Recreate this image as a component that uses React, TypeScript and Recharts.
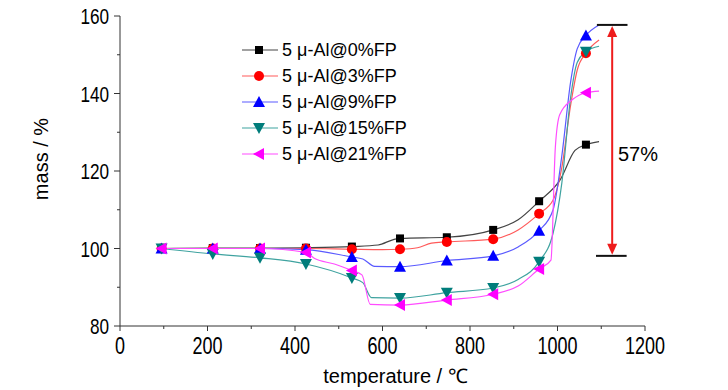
import React from 'react';
import { LineChart, Line, XAxis, YAxis, Legend, ReferenceLine, ReferenceDot } from 'recharts';

// marker temperatures (°C)
const MARKER_T = [95, 212, 320, 425, 530, 640, 747, 853, 958, 1065];
const X_TICKS = [0, 100, 200, 300, 400, 500, 600, 700, 800, 900, 1000, 1100, 1200];
const Y_TICKS = [80, 90, 100, 110, 120, 130, 140, 150, 160];

const NAMES = ['5 \u03bc-Al@0%FP', '5 \u03bc-Al@3%FP', '5 \u03bc-Al@9%FP', '5 \u03bc-Al@15%FP', '5 \u03bc-Al@21%FP'];

// mass at marker temperatures
const M0 = [100, 100.1, 100.1, 100.2, 100.5, 102.6, 102.9, 104.8, 112.2, 126.8];
const M3 = [100, 100, 100, 100, 99.8, 99.8, 101.7, 102.4, 109.0, 150.4];
const M9 = [100, 100, 100, 99.7, 97.8, 95.3, 96.9, 98.1, 104.6, 155.0];
const M15 = [100, 98.6, 97.6, 96.0, 92.4, 87.2, 88.6, 89.8, 96.6, 150.8];
const M21 = [100, 100, 100, 99.0, 94.3, 85.4, 86.7, 88.2, 94.7, 140.2];

// additional curve points between markers [temperature, mass]
const E0: [number, number][] = [[590, 100.9], [625, 102.3], [910, 107.4], [1006, 117.7], [1040, 125.3], [1095, 127.6]];
const E3: [number, number][] = [[600, 99.7], [680, 100.2], [712, 101.4], [910, 104.8], [990, 112.5], [1010, 121], [1030, 137], [1045, 146], [1095, 153.8]];
const E9: [number, number][] = [[555, 97.3], [582, 95.4], [910, 100.4], [990, 110], [1010, 124], [1030, 143], [1045, 151.5], [1095, 157.7]];
const E15: [number, number][] = [[555, 91.2], [575, 87.3], [910, 92], [990, 104], [1010, 117], [1030, 139], [1045, 148], [1095, 152.2]];
const E21: [number, number][] = [[445, 97.4], [490, 96.0], [553, 93.2], [572, 85.6], [910, 90.3], [985, 97], [995, 126], [1005, 134.5], [1035, 138.5], [1095, 140.6]];

const LINE_COLORS = ['#444444', '#ff5a5a', '#5a5aff', '#3fa3a0', '#ff4dff'];
const MARK_COLORS = ['#000000', '#ff0000', '#0000ff', '#007d7b', '#ff00ff'];

type Pt = { t: number; v: number; m: boolean };
const build = (marks: number[], extra: [number, number][]): Pt[] => {
  const pts: Pt[] = MARKER_T.map((t, i) => ({ t, v: marks[i], m: true }));
  extra.forEach(([t, v]) => pts.push({ t, v, m: false }));
  return pts.sort((a, b) => a.t - b.t);
};

const SERIES = [build(M0, E0), build(M3, E3), build(M9, E9), build(M15, E15), build(M21, E21)];

const Marker = ({ kind, cx, cy, color }: { kind: number; cx: number; cy: number; color: string }) => {
  switch (kind) {
    case 0:
      return <rect x={cx - 4} y={cy - 4} width={8} height={8} fill={color} />;
    case 1:
      return <circle cx={cx} cy={cy} r={5} fill={color} />;
    case 2:
      return <polygon points={`${cx},${cy - 6} ${cx - 6},${cy + 5} ${cx + 6},${cy + 5}`} fill={color} />;
    case 3:
      return <polygon points={`${cx},${cy + 6} ${cx - 6},${cy - 5} ${cx + 6},${cy - 5}`} fill={color} />;
    default:
      return <polygon points={`${cx - 6},${cy} ${cx + 5},${cy - 6} ${cx + 5},${cy + 6}`} fill={color} />;
  }
};

const makeDot = (kind: number) => (p: any) => {
  if (!p.payload || !p.payload.m) return <g key={`e-${kind}-${p.index}`} />;
  return (
    <g key={`d-${kind}-${p.index}`}>
      <Marker kind={kind} cx={p.cx} cy={p.cy} color={MARK_COLORS[kind]} />
    </g>
  );
};

const AX = '#333333';

const XTick = (props: any) => {
  const { x, y, payload } = props;
  const v = payload.value;
  const major = v % 200 === 0;
  return (
    <g>
      <line x1={x} x2={x} y1={y} y2={y + (major ? 5 : 3)} stroke={AX} />
      {major && (
        <text transform={`translate(${x},${y + 28}) scale(0.75,1)`} textAnchor="middle" fontSize={24} fill="#000">
          {v}
        </text>
      )}
    </g>
  );
};

const YTick = (props: any) => {
  const { x, y, payload } = props;
  const v = payload.value;
  const major = v % 20 === 0;
  return (
    <g>
      <line x1={x} x2={x - (major ? 6 : 3)} y1={y} y2={y} stroke={AX} />
      {major && (
        <text transform={`translate(${x - 11},${y + 8}) scale(0.78,1)`} textAnchor="end" fontSize={22} fill="#000">
          {v}
        </text>
      )}
    </g>
  );
};

const LegendBox = () => (
  <div style={{ fontFamily: 'Liberation Sans, Arial, sans-serif', fontSize: 18, color: '#000' }}>
    {NAMES.map((n, i) => (
      <div key={n} style={{ display: 'flex', alignItems: 'center', height: 26 }}>
        <svg width={40} height={26} style={{ display: 'block' }}>
          <line x1={0} x2={36} y1={13} y2={13} stroke={LINE_COLORS[i]} strokeWidth={1.2} />
          <Marker kind={i} cx={17} cy={13} color={MARK_COLORS[i]} />
        </svg>
        <span style={{ whiteSpace: 'nowrap', lineHeight: '26px' }}>{n}</span>
      </div>
    ))}
  </div>
);

const ArrowShape = (props: any) => {
  const { x1, y1, x2, y2 } = props;
  const top = Math.min(y1, y2);
  const bot = Math.max(y1, y2);
  const x = (x1 + x2) / 2;
  return (
    <g>
      <line x1={x} x2={x} y1={top + 8} y2={bot - 8} stroke="#ee1c1c" strokeWidth={2} />
      <polygon points={`${x},${top + 1} ${x - 5},${top + 12} ${x + 5},${top + 12}`} fill="#ee1c1c" />
      <polygon points={`${x},${bot - 1} ${x - 5},${bot - 12} ${x + 5},${bot - 12}`} fill="#ee1c1c" />
    </g>
  );
};

export default function App() {
  return (
    <div style={{ position: 'absolute', left: 0, top: 0, background: '#fff' }}>
      <LineChart
        width={728}
        height={390}
        margin={{ top: 16, right: 83, left: 60, bottom: 24 }}
        style={{ fontFamily: 'Liberation Sans, Arial, sans-serif' }}
      >
        <XAxis
          type="number"
          dataKey="t"
          domain={[0, 1200]}
          ticks={X_TICKS}
          interval={0}
          height={40}
          tickSize={0}
          tickMargin={0}
          tickLine={false}
          axisLine={{ stroke: AX }}
          tick={<XTick />}
          allowDuplicatedCategory={false}
          label={{
            content: (p: any) => {
              const vb = p.viewBox || { x: 120, y: 326, width: 525 };
              return (
                <text x={vb.x + vb.width / 2 + 13} y={vb.y + 57} textAnchor="middle" fontSize={20} fill="#000">
                  temperature / ℃
                </text>
              );
            },
          }}
        />
        <YAxis
          type="number"
          domain={[80, 160]}
          ticks={Y_TICKS}
          interval={0}
          width={60}
          tickSize={0}
          tickMargin={0}
          tickLine={false}
          axisLine={{ stroke: AX }}
          tick={<YTick />}
          label={{
            content: (p: any) => {
              const vb = p.viewBox || { x: 60, y: 16, height: 310 };
              return (
                <text
                  transform={`translate(${vb.x - 12},${vb.y + vb.height / 2 - 12}) rotate(-90)`}
                  textAnchor="middle"
                  fontSize={20}
                  fill="#000"
                >
                  mass / %
                </text>
              );
            },
          }}
        />
        <Legend
          layout="vertical"
          align="center"
          verticalAlign="middle"
          content={<LegendBox />}
          wrapperStyle={{ left: 242, top: 37, width: 180, height: 132 }}
        />
        {SERIES.map((data, i) => (
          <Line
            key={NAMES[i]}
            name={NAMES[i]}
            data={data}
            dataKey="v"
            type="monotone"
            stroke={LINE_COLORS[i]}
            strokeWidth={1.2}
            dot={makeDot(i)}
            activeDot={false}
            isAnimationActive={false}
          />
        ))}
        <ReferenceLine
          segment={[{ x: 1090, y: 157.7 }, { x: 1160, y: 157.7 }]}
          stroke="#111"
          strokeWidth={2}
        />
        <ReferenceLine
          segment={[{ x: 1088, y: 98.1 }, { x: 1158, y: 98.1 }]}
          stroke="#111"
          strokeWidth={2}
        />
        <ReferenceLine
          segment={[{ x: 1125, y: 98.1 }, { x: 1125, y: 157.7 }]}
          stroke="#ee1c1c"
          shape={<ArrowShape />}
        />
        <ReferenceDot
          x={1184}
          y={124.5}
          r={0}
          fill="none"
          stroke="none"
          label={{ value: '57%', position: 'center', fontSize: 20, fill: '#000' }}
        />
      </LineChart>
    </div>
  );
}
